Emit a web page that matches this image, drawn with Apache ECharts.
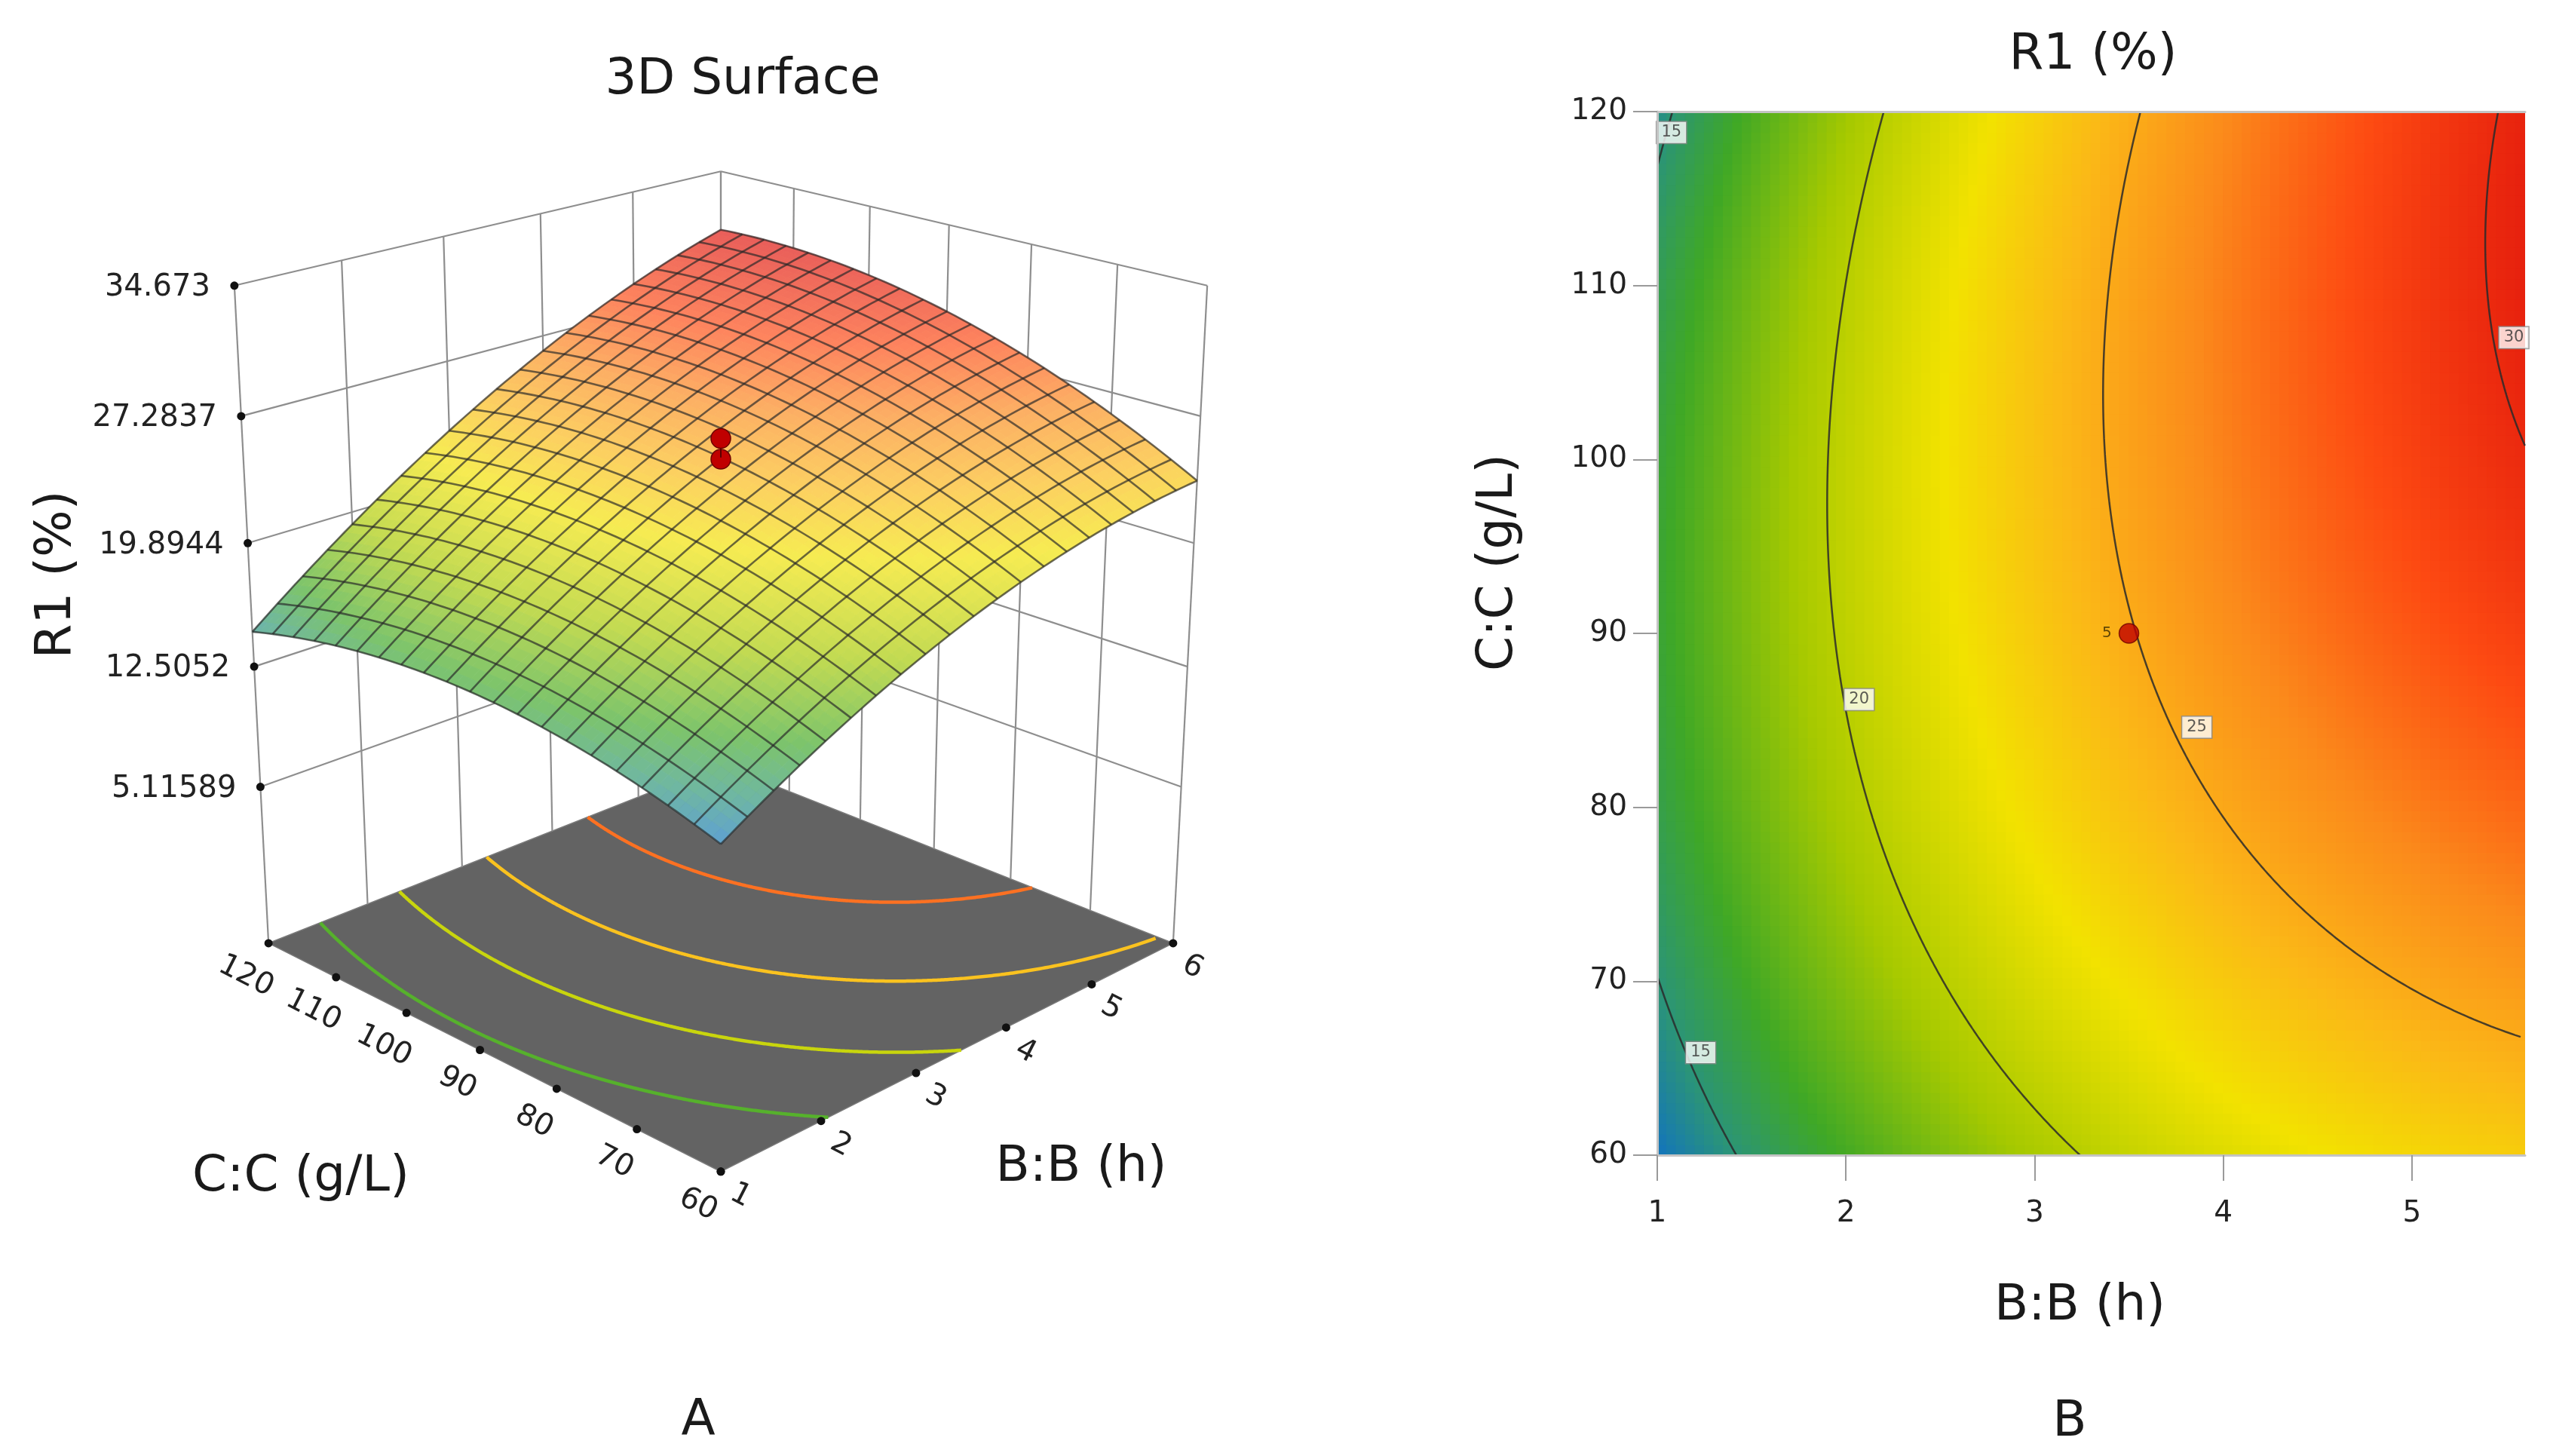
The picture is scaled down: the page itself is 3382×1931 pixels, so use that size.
<!DOCTYPE html>
<html><head><meta charset="utf-8">
<script src="https://cdn.jsdelivr.net/npm/echarts@6/dist/echarts.min.js"></script>
<style>html,body{margin:0;padding:0;background:#fff;}#chart{width:3382px;height:1931px;background:#fff;}</style>
</head><body><div id="chart"></div>
<script>
// ================= DATA =================
const bRange = [1, 6];                       // B:B (h)   design range
const cRange = [60, 120];                    // C:C (g/L) design range
const bTicks = [1, 2, 3, 4, 5, 6];
const cTicks = [60, 70, 80, 90, 100, 110, 120];
const bTicksContour = [1, 2, 3, 4, 5];
const contourBMax = 5.6;                     // right edge of the contour panel
const zTicks = [5.11589, 12.5052, 19.8944, 27.2837, 34.673];
const zTickLabels = ['5.11589', '12.5052', '19.8944', '27.2837', '34.673'];
const zFloor = -4.8;                         // level of the projected floor
// fitted quadratic response surface R1 (%) in coded factors
const modelTerms = ['Intercept', 'B', 'C', 'BC', 'B^2', 'C^2'];
const modelCoefficients = [24.9, 6.6, 2.13, 1.6, -1.99, -2.23];
const colorRange = [13.55, 31.0];            // min / max of R1 over the design space
const centerPoint = [3.5, 90];
const centerPointRuns = [24.8, 26.0];        // centre-point runs visible above the surface
const centerPointCount = ['5'];
const contourLevels = [15, 20, 25, 30];
const contourLabels = [[15, 1.075, 118.8], [15, 1.23, 65.9], [20, 2.07, 86.2], [25, 3.86, 84.6], [30, 5.54, 107.0]];
const floorContourLevels = [17.04, 20.53, 24.02, 27.51];

// ================= helpers =================
const FONT = '"DejaVu Sans", Verdana, sans-serif';
function r1(b, c) {
  const x = 2 * (b - bRange[0]) / (bRange[1] - bRange[0]) - 1;
  const y = 2 * (c - cRange[0]) / (cRange[1] - cRange[0]) - 1;
  const k = modelCoefficients;
  return k[0] + k[1] * x + k[2] * y + k[3] * x * y + k[4] * x * x + k[5] * y * y;
}
const colorStops = [[0, '#1374bd'], [0.08, '#2b9478'], [0.18, '#3fa826'], [0.33, '#a6c900'],
  [0.5, '#f2e200'], [0.62, '#fbb817'], [0.74, '#fb8a1b'], [0.86, '#fd4a12'], [1, '#df130c']];
const stopRgb = colorStops.map(s => [s[0], parseInt(s[1].slice(1, 3), 16), parseInt(s[1].slice(3, 5), 16), parseInt(s[1].slice(5, 7), 16)]);
function colorAt(v, whiten) {
  let t = (v - colorRange[0]) / (colorRange[1] - colorRange[0]);
  t = Math.max(0, Math.min(1, t));
  let k = 0;
  while (k < stopRgb.length - 2 && t > stopRgb[k + 1][0]) k++;
  const a = stopRgb[k], b = stopRgb[k + 1];
  const f = (t - a[0]) / (b[0] - a[0]);
  const w = whiten || 0;
  const ch = i => Math.round((a[i] + (b[i] - a[i]) * f) * (1 - w) + 255 * w);
  return 'rgb(' + ch(1) + ',' + ch(2) + ',' + ch(3) + ')';
}
function solveB(level, c, bMax) {
  let lo = bRange[0], hi = bMax;
  if (r1(lo, c) > level || r1(hi, c) < level) return null;
  for (let n = 0; n < 50; n++) { const m = (lo + hi) / 2; if (r1(m, c) < level) lo = m; else hi = m; }
  return (lo + hi) / 2;
}
function contourPieces(level, bMax) {
  const pieces = []; let cur = [];
  for (let n = 0; n <= 600; n++) {
    const c = cRange[0] + (cRange[1] - cRange[0]) * n / 600;
    const b = solveB(level, c, bMax);
    if (b === null) { if (cur.length) pieces.push(cur); cur = []; }
    else cur.push([b, c]);
  }
  if (cur.length) pieces.push(cur);
  return pieces;
}

// ================= 3D camera =================
const DEG = Math.PI / 180;
const camera = { distance: 10.43, pitch: 20.96, halfHeight: 1.0608 };
const sinP = Math.sin(camera.pitch * DEG), cosP = Math.cos(camera.pitch * DEG);
const zTop = zTicks[zTicks.length - 1];
function world(b, c, z) {
  const u = 2 * (b - bRange[0]) / (bRange[1] - bRange[0]) - 1;
  const v = 2 * (c - cRange[0]) / (cRange[1] - cRange[0]) - 1;
  const p = (u - v) / Math.SQRT2, q = (u + v) / Math.SQRT2;
  const H = camera.halfHeight;
  const h = -H + 2 * H * (z - zFloor) / (zTop - zFloor);
  const d = camera.distance + q * cosP - h * sinP;
  return { sx: p / d, sy: (h * cosP + q * sinP) / d, depth: d };
}
function proj(api, b, c, z) { const w = world(b, c, z); return api.coord([w.sx, w.sy]); }

// ================= derived render data =================
const heatCols = 92, heatRows = 100;
const heatColumns = [];
for (let i = 0; i < heatCols; i++) heatColumns.push([i]);
const meshN = 20, sub = 3, fineN = meshN * sub;
const fbStep = (bRange[1] - bRange[0]) / fineN, fcStep = (cRange[1] - cRange[0]) / fineN;
const surfaceOrder = [];
for (let i = 0; i < fineN; i++) for (let j = 0; j < fineN; j++) {
  const bm = bRange[0] + (i + 0.5) * fbStep, cm = cRange[0] + (j + 0.5) * fcStep;
  surfaceOrder.push([i, j, world(bm, cm, r1(bm, cm)).depth]);
}
surfaceOrder.sort((a, b) => b[2] - a[2]);   // far -> near
const surfaceRows = [];
for (let k = 0; k < surfaceOrder.length; k += 60) surfaceRows.push([k / 60]);
const meshLines = [];
for (let k = 0; k <= meshN; k++) { meshLines.push([0, k]); meshLines.push([1, k]); }
const wallSegments = [];
bTicks.forEach(b => wallSegments.push([b, cRange[1], zFloor, b, cRange[1], zTop]));
cTicks.forEach(c => wallSegments.push([bRange[1], c, zFloor, bRange[1], c, zTop]));
zTicks.forEach(z => {
  wallSegments.push([bRange[0], cRange[1], z, bRange[1], cRange[1], z]);
  wallSegments.push([bRange[1], cRange[0], z, bRange[1], cRange[1], z]);
});
const tickItems = [];
zTicks.forEach((z, i) => tickItems.push([0, i]));
cTicks.forEach((c, i) => tickItems.push([1, i]));
bTicks.forEach((b, i) => tickItems.push([2, i]));

// ================= series =================
const noProg = { progressive: 0, progressiveThreshold: 1e9, animation: false, silent: true };
const series = [];
series.push(Object.assign({}, noProg, {
  type: 'custom', name: 'R1 field', xAxisIndex: 0, yAxisIndex: 0, clip: true, z: 3,
  data: heatColumns,
  renderItem: (params, api) => {
    const i = api.value(0);
    const b0 = bRange[0] + (contourBMax - bRange[0]) * i / heatCols, b1 = bRange[0] + (contourBMax - bRange[0]) * (i + 1) / heatCols;
    const children = [];
    for (let j = 0; j < heatRows; j++) {
      const c0 = cRange[0] + (cRange[1] - cRange[0]) * j / heatRows, c1 = cRange[0] + (cRange[1] - cRange[0]) * (j + 1) / heatRows;
      const p0 = api.coord([b0, c1]), p1 = api.coord([b1, c0]);
      children.push({ type: 'rect', shape: { x: p0[0] - 0.6, y: p0[1] - 0.6, width: p1[0] - p0[0] + 1.2, height: p1[1] - p0[1] + 1.2 },
        style: { fill: colorAt(r1((b0 + b1) / 2, (c0 + c1) / 2), 0) } });
    }
    return { type: 'group', children: children };
  }
}));
contourLevels.forEach(level => {
  const data = [];
  contourPieces(level, contourBMax).forEach(piece => { piece.forEach(p => data.push(p)); data.push('-'); });
  series.push(Object.assign({}, noProg, { type: 'line', name: 'contour ' + level, xAxisIndex: 0, yAxisIndex: 0, data: data, showSymbol: false, symbol: 'none',
    connectNulls: false, z: 6, lineStyle: { color: '#2a2a2a', width: 2.5, opacity: 0.85 } }));
});
series.push(Object.assign({}, noProg, {
  type: 'scatter', name: 'contour labels', xAxisIndex: 0, yAxisIndex: 0, symbolSize: 0, z: 8,
  data: contourLabels.map(l => ({ value: [l[1], l[2]], name: String(l[0]) })),
  label: { show: true, position: 'inside', formatter: p => p.name, fontSize: 21, fontFamily: FONT, color: '#333',
    backgroundColor: '#ffffff', borderColor: '#8a8a8a', borderWidth: 1.5, padding: [4, 6, 3, 6] }
}));
series.push(Object.assign({}, noProg, {
  type: 'scatter', name: 'centre point', xAxisIndex: 0, yAxisIndex: 0, z: 9, symbolSize: 26,
  data: [{ value: centerPoint, name: centerPointCount[0] }],
  itemStyle: { color: '#c00000', borderColor: '#6e0000', borderWidth: 1.5 },
  label: { show: true, position: 'left', distance: 9, formatter: p => p.name, fontSize: 20, fontFamily: FONT, color: '#3a2a00' }
}));
const c3d = Object.assign({}, noProg, { type: 'custom', coordinateSystem: 'cartesian2d', xAxisIndex: 2, yAxisIndex: 1, clip: false });
series.push(Object.assign({}, c3d, {
  name: 'floor', z: 3, data: [[0, 0]],
  renderItem: (params, api) => ({ type: 'polygon',
    shape: { points: [[bRange[0], cRange[0]], [bRange[1], cRange[0]], [bRange[1], cRange[1]], [bRange[0], cRange[1]]].map(([b, c]) => proj(api, b, c, zFloor)) },
    style: { fill: '#636363', stroke: '#7a7a7a', lineWidth: 1.5 } })
}));
series.push(Object.assign({}, c3d, {
  name: 'walls', z: 3, data: wallSegments,
  renderItem: (params, api) => {
    const a = proj(api, api.value(0), api.value(1), api.value(2)), b = proj(api, api.value(3), api.value(4), api.value(5));
    return { type: 'line', shape: { x1: a[0], y1: a[1], x2: b[0], y2: b[1] }, style: { stroke: '#8e8e8e', lineWidth: 2.2 } };
  }
}));
series.push(Object.assign({}, c3d, {
  name: 'floor contours', z: 4, data: floorContourLevels.map((l, i) => [i]),
  renderItem: (params, api) => {
    const level = floorContourLevels[api.value(0)];
    const children = contourPieces(level, bRange[1]).map(piece => ({ type: 'polyline',
      shape: { points: piece.map(([b, c]) => proj(api, b, c, zFloor)) },
      style: { stroke: colorAt(level, 0.05), lineWidth: 4.5, fill: null } }));
    return { type: 'group', children: children };
  }
}));
series.push(Object.assign({}, c3d, {
  name: 'ticks', z: 4, data: tickItems,
  renderItem: (params, api) => {
    const kind = api.value(0), i = api.value(1);
    let pt, text, lx, ly, align = 'center', rot = 0;
    if (kind === 0) { pt = proj(api, bRange[0], cRange[1], zTicks[i]); text = zTickLabels[i]; lx = pt[0] - 32; ly = pt[1] + 3; align = 'right'; }
    else if (kind === 1) { pt = proj(api, bRange[0], cTicks[i], zFloor); text = String(cTicks[i]); lx = pt[0] - 30; ly = pt[1] + 44; rot = -27 * DEG; }
    else { pt = proj(api, bTicks[i], cRange[0], zFloor); text = String(bTicks[i]); lx = pt[0] + 26; ly = pt[1] + 32; rot = -27 * DEG; }
    return { type: 'group', children: [
      { type: 'circle', shape: { cx: pt[0], cy: pt[1], r: 5.5 }, style: { fill: '#111' } },
      { type: 'text', x: lx, y: ly, rotation: rot, style: { text: text, font: '40px ' + FONT, fill: '#222', align: align, verticalAlign: 'middle' } }
    ] };
  }
}));
series.push(Object.assign({}, c3d, {
  name: 'surface', z: 5, data: surfaceRows,
  renderItem: (params, api) => {
    const k = api.value(0);
    const children = [];
    for (let n = k * 60; n < k * 60 + 60; n++) {
      const i = surfaceOrder[n][0], j = surfaceOrder[n][1];
      const b0 = bRange[0] + i * fbStep, b1 = b0 + fbStep, c0 = cRange[0] + j * fcStep, c1 = c0 + fcStep;
      const pts = [[b0, c0], [b1, c0], [b1, c1], [b0, c1]].map(([b, c]) => proj(api, b, c, r1(b, c)));
      const col = colorAt(r1((b0 + b1) / 2, (c0 + c1) / 2), 0.32);
      children.push({ type: 'polygon', shape: { points: pts }, style: { fill: col, stroke: col, lineWidth: 1 } });
    }
    return { type: 'group', children: children };
  }
}));
series.push(Object.assign({}, c3d, {
  name: 'mesh', z: 6, data: meshLines,
  renderItem: (params, api) => {
    const dir = api.value(0), k = api.value(1);
    const pts = [];
    for (let n = 0; n <= 60; n++) {
      let b, c;
      if (dir === 0) { b = bRange[0] + (bRange[1] - bRange[0]) * k / meshN; c = cRange[0] + (cRange[1] - cRange[0]) * n / 60; }
      else { c = cRange[0] + (cRange[1] - cRange[0]) * k / meshN; b = bRange[0] + (bRange[1] - bRange[0]) * n / 60; }
      pts.push(proj(api, b, c, r1(b, c)));
    }
    return { type: 'polyline', shape: { points: pts }, style: { stroke: 'rgba(40,40,40,0.68)', lineWidth: 2.6, fill: null } };
  }
}));
series.push(Object.assign({}, c3d, {
  name: 'design points', z: 7, data: centerPointRuns.map(v => [v]),
  renderItem: (params, api) => {
    const v = api.value(0);
    const p = proj(api, centerPoint[0], centerPoint[1], v);
    const s = proj(api, centerPoint[0], centerPoint[1], r1(centerPoint[0], centerPoint[1]));
    return { type: 'group', children: [
      { type: 'line', shape: { x1: p[0], y1: p[1], x2: s[0], y2: s[1] }, style: { stroke: '#5a0000', lineWidth: 2 } },
      { type: 'circle', shape: { cx: p[0], cy: p[1], r: 13 }, style: { fill: '#c00000', stroke: '#6e0000', lineWidth: 1.5 } }
    ] };
  }
}));

const titleFont = '66px ' + FONT;
const option = {
  animation: false,
  grid: [
    { left: 2198, top: 148, width: 1151, height: 1384, containLabel: false, outerBoundsMode: 'none' },
    { left: 39, top: 5.4, width: 1834, height: 1925.7, containLabel: false, outerBoundsMode: 'none' }
  ],
  xAxis: [
    { gridIndex: 0, type: 'value', min: bRange[0], max: contourBMax, interval: 1, position: 'bottom', z: 12,
      axisLine: { show: true, onZero: false, lineStyle: { color: '#c4c4c4', width: 3 } },
      axisTick: { show: true, length: 34, customValues: bTicksContour, lineStyle: { color: '#9a9a9a', width: 2 } },
      axisLabel: { color: '#222', fontSize: 39, fontFamily: FONT, margin: 58, customValues: bTicksContour },
      splitLine: { show: false },
      name: 'B:B (h)', nameLocation: 'middle', nameGap: 168,
      nameTextStyle: { fontSize: 66, fontFamily: FONT, color: '#1a1a1a', padding: [0, 30, 0, 0] } },
    { gridIndex: 0, type: 'value', min: bRange[0], max: contourBMax, position: 'top', z: 12,
      axisLine: { show: true, onZero: false, lineStyle: { color: '#c4c4c4', width: 3 } },
      axisTick: { show: false }, axisLabel: { show: false }, splitLine: { show: false } },
    { gridIndex: 1, type: 'value', min: -0.2, max: 0.2, show: false }
  ],
  yAxis: [
    { gridIndex: 0, type: 'value', min: cRange[0], max: cRange[1], interval: 10, z: 12,
      axisLine: { show: true, onZero: false, lineStyle: { color: '#c4c4c4', width: 3 } },
      axisTick: { show: true, length: 32, lineStyle: { color: '#9a9a9a', width: 2 } },
      axisLabel: { color: '#222', fontSize: 39, fontFamily: FONT, margin: 40 },
      splitLine: { show: false } },
    { gridIndex: 1, type: 'value', min: -0.24, max: 0.18, show: false }
  ],
  graphic: [
    { type: 'text', x: 985, y: 107, style: { text: '3D Surface', font: titleFont, fill: '#1a1a1a', align: 'center', verticalAlign: 'middle' } },
    { type: 'text', x: 2776, y: 74, style: { text: 'R1 (%)', font: titleFont, fill: '#1a1a1a', align: 'center', verticalAlign: 'middle' } },
    { type: 'text', x: 76, y: 762, rotation: Math.PI / 2, style: { text: 'R1 (%)', font: titleFont, fill: '#1a1a1a', align: 'center', verticalAlign: 'middle' } },
    { type: 'text', x: 399, y: 1562, style: { text: 'C:C (g/L)', font: titleFont, fill: '#1a1a1a', align: 'center', verticalAlign: 'middle' } },
    { type: 'text', x: 1434, y: 1549, style: { text: 'B:B (h)', font: titleFont, fill: '#1a1a1a', align: 'center', verticalAlign: 'middle' } },
    { type: 'text', x: 1988, y: 746, rotation: Math.PI / 2, style: { text: 'C:C (g/L)', font: titleFont, fill: '#1a1a1a', align: 'center', verticalAlign: 'middle' } },
    { type: 'text', x: 926, y: 1885, style: { text: 'A', font: titleFont, fill: '#1a1a1a', align: 'center', verticalAlign: 'middle' } },
    { type: 'text', x: 2745, y: 1887, style: { text: 'B', font: titleFont, fill: '#1a1a1a', align: 'center', verticalAlign: 'middle' } }
  ],
  series: series
};
const chart = echarts.init(document.getElementById('chart'), null, { renderer: 'canvas', width: 3382, height: 1931 });
chart.setOption(option);
</script></body></html>
